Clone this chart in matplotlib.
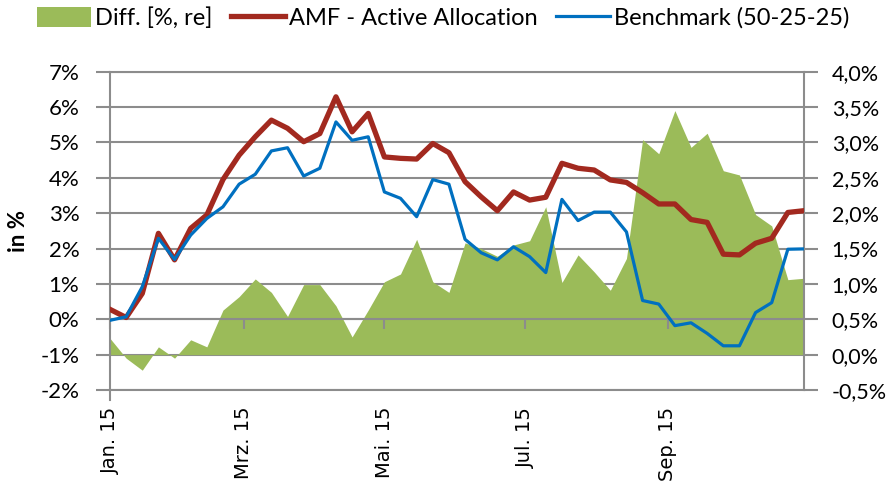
import numpy as np
import pandas as pd
import matplotlib
matplotlib.use("Agg")
import matplotlib.pyplot as plt
from matplotlib.patches import Patch
from matplotlib.lines import Line2D

# weekly values, 2015
dates = pd.date_range("2015-01-02", periods=44, freq="7D")

amf = [0.28, 0.05, 0.73, 2.43, 1.68, 2.57, 2.95, 3.95, 4.64, 5.16,
       5.63, 5.40, 5.02, 5.25, 6.29, 5.30, 5.82, 4.59, 4.55, 4.53,
       4.97, 4.71, 3.89, 3.46, 3.07, 3.60, 3.37, 3.45, 4.41, 4.27,
       4.22, 3.94, 3.87, 3.58, 3.26, 3.26, 2.82, 2.74, 1.84, 1.82,
       2.15, 2.29, 3.02, 3.07]

bench = [-0.03, 0.07, 0.92, 2.29, 1.69, 2.38, 2.85, 3.18, 3.82, 4.10,
         4.76, 4.85, 4.05, 4.27, 5.58, 5.06, 5.16, 3.60, 3.42, 2.90,
         3.95, 3.82, 2.26, 1.88, 1.68, 2.05, 1.77, 1.32, 3.39, 2.79,
         3.03, 3.03, 2.47, 0.53, 0.43, -0.18, -0.10, -0.40, -0.75, -0.75,
         0.19, 0.47, 1.98, 1.99]

diff = [0.23, -0.05, -0.22, 0.11, -0.05, 0.21, 0.11, 0.63, 0.82, 1.07,
        0.88, 0.54, 0.99, 0.99, 0.69, 0.25, 0.63, 1.03, 1.14, 1.63,
        1.03, 0.88, 1.58, 1.50, 1.39, 1.55, 1.61, 2.09, 1.02, 1.41,
        1.17, 0.91, 1.36, 3.04, 2.84, 3.45, 2.93, 3.13, 2.60, 2.54,
        1.98, 1.82, 1.06, 1.08]

tick_dates = pd.to_datetime(["2015-01-02", "2015-03-01", "2015-05-01",
                             "2015-07-01", "2015-09-01"])
tick_labels = ["Jan. 15", "Mrz. 15", "Mai. 15", "Jul. 15", "Sep. 15"]

left_ticks = np.arange(-2, 8, 1)
right_ticks = np.arange(-0.5, 4.01, 0.5)

green = "#9BBB59"
red = "#A2291F"
blue = "#0070C0"
grey = "#8C8C8C"

plt.rcParams["font.family"] = ["Lato", "DejaVu Sans"]

fig = plt.figure(figsize=(8.9, 4.9), dpi=100)
ax = fig.add_axes([110 / 890, 1 - 390 / 490, 694 / 890, 318.3 / 490])

# area on right-hand scale (drawn first so it sits behind the lines)
ax.fill_between(dates, diff, 0, color=green, linewidth=0, zorder=1)
ax.set_ylim(-0.5, 4.0)
ax.set_axisbelow(True)
ax.grid(axis="y", color=grey, linewidth=1.5)
ax.set_xlim(dates[0], dates[-1])

# lines on left-hand scale
ax2 = ax.twinx()
ax2.plot(dates, amf, color=red, linewidth=3.8, solid_joinstyle="round", zorder=3)
ax2.plot(dates, bench, color=blue, linewidth=2.3, solid_joinstyle="round", zorder=4)
ax2.set_ylim(-2, 7)
ax2.set_yticks(left_ticks)
ax2.set_yticklabels([f"{v}%" for v in left_ticks])
ax2.yaxis.tick_left()
ax2.yaxis.set_label_position("left")
ax2.set_ylabel("in %", fontsize=16, fontweight="bold", labelpad=8)
ax2.tick_params(axis="y", direction="out", length=10, width=1.5, color=grey,
                pad=12, labelsize=16)

# right axis belongs to the area axes
ax.yaxis.tick_right()
ax.yaxis.set_label_position("right")
ax.set_yticks(right_ticks)
ax.set_yticklabels([f"{v:.1f}%".replace(".", ",") for v in right_ticks])
ax.tick_params(axis="y", direction="out", length=10, width=1.5, color=grey,
               pad=10, labelsize=15.5)

ax.set_xticks(tick_dates)
ax.set_xticklabels(tick_labels, rotation=90, family="DejaVu Sans", fontsize=14)
ax.tick_params(axis="x", length=0, pad=12)
for s in ax.spines.values():
    s.set_color(grey)
    s.set_linewidth(1.5)
ax.spines["left"].set_visible(False)

# category axis line crosses at 0 %
ax2.xaxis.set_visible(True)
ax2.spines["bottom"].set_position(("data", 0))
ax2.tick_params(axis="x", direction="out", length=7, width=1.5, color=grey,
                labelbottom=False)
for name, s in ax2.spines.items():
    s.set_color(grey)
    s.set_linewidth(1.5)
ax2.spines["top"].set_visible(False)
ax2.spines["right"].set_visible(False)
ax2.plot([0, 0], [0, -0.03], transform=ax2.transAxes, color=grey,
         linewidth=1.5, clip_on=False)

handles = [Patch(facecolor=green, edgecolor="none"),
           Line2D([], [], color=red, linewidth=3.8),
           Line2D([], [], color=blue, linewidth=2.3)]
fig.legend(handles, ["Diff. [%, re]", "AMF - Active Allocation", "Benchmark (50-25-25)"],
           loc="center", bbox_to_anchor=(443 / 890, 1 - 18 / 490), ncol=3,
           frameon=False, fontsize=17, handlelength=2.3, handleheight=0.9,
           handletextpad=0.15, columnspacing=0.8, borderpad=0)

fig.savefig("out.png", dpi=100)
